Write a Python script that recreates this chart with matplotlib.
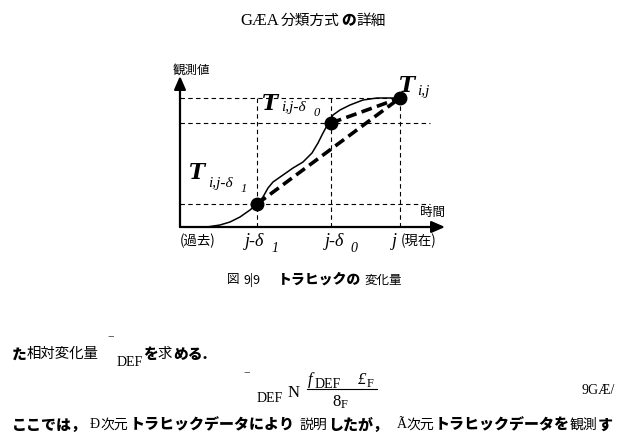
import matplotlib
matplotlib.use("Agg")
import matplotlib.pyplot as plt

curve_t = [13, 27, 40, 50, 60, 70, 77, 83, 88, 93, 103, 113, 123, 132, 138,
           143, 149, 153, 160, 170, 183, 197, 219]
curve_v = [0, 0, 2, 5, 10, 17, 23, 30, 39, 45, 52, 59, 65, 74, 84,
           94, 105, 112, 117, 122, 127, 129, 129]

# the three marked points: T(i,j-d1), T(i,j-d0), T(i,j)
pt_t = [77, 151, 220]
pt_v = [23, 104, 129]

JP = ['Noto Sans CJK JP', 'DejaVu Sans']
SERIF = ['Liberation Serif', 'DejaVu Serif']

fig = plt.figure(figsize=(6.18, 4.4), dpi=100)

# page layer in pixel coordinates
bg = fig.add_axes([0, 0, 1, 1])
bg.set_xlim(0, 618)
bg.set_ylim(440, 0)
bg.axis('off')

# diagram layer
ax = fig.add_axes([180 / 618, (440 - 227) / 440, 265 / 618, 149 / 440])
ax.set_xlim(0, 265)
ax.set_ylim(0, 149)
ax.axis('off')

# guide lines
grid_kw = dict(color='black', lw=0.8, ls=(0, (4, 3)), clip_on=False)
ax.plot([0, pt_t[2]], [pt_v[2], pt_v[2]], **grid_kw)
ax.plot([0, 250], [pt_v[1], pt_v[1]], **grid_kw)
ax.plot([0, 250], [pt_v[0], pt_v[0]], **grid_kw)
for t in pt_t:
    ax.plot([t, t], [0, pt_v[2]], **grid_kw)

# axes with arrows
arrow = dict(arrowstyle='-|>,head_length=0.8,head_width=0.35',
             color='black', lw=1.6, shrinkA=0, shrinkB=0)
ax.annotate('', xy=(0, 151), xytext=(0, 0), annotation_clip=False, arrowprops=arrow)
ax.annotate('', xy=(265, 0), xytext=(0, 0), annotation_clip=False, arrowprops=arrow)

# traffic curve
ax.plot(curve_t, curve_v, color='black', lw=1.1, clip_on=False)

# thick dashed chords
chord_kw = dict(color='black', lw=2.6, ls=(0, (3, 1.5)), clip_on=False)
ax.plot([pt_t[0], pt_t[2]], [pt_v[0], pt_v[2]], **chord_kw)
ax.plot([pt_t[1], pt_t[2]], [pt_v[1], pt_v[2]], **chord_kw)

ax.plot(pt_t, pt_v, 'o', color='black', ms=9, clip_on=False, zorder=5)


def put(x, y, s, style='n', size=10.2, **kw):
    if style == 'n':
        kw.update(family=JP)
    elif style == 'b':
        kw.update(family=JP, weight='heavy')
    elif style == 's':
        kw.update(family=SERIF)
    elif style == 'si':
        kw.update(family=SERIF, style='italic')
    elif style == 'T':
        kw.update(family=['DejaVu Serif'], weight='bold', style='italic')
    bg.text(x, y, s, fontsize=size, va='center', ha='left', **kw)


# title
put(240, 21, 'GÆA', 's', 12)
put(281, 21, '分類方式', 'n', 10.6)
put(341, 21, 'の', 'b', 10.6)
put(356, 21, '詳細', 'n', 10.6)

# diagram labels
put(173, 70, '観測値', 'n', 9)
put(420, 212, '時間', 'n', 9)
put(180, 241, '(過去)', 'n', 9.6)
put(401, 241, '(現在)', 'n', 9.6)
put(245, 242, 'j-δ', 'si', 13)
put(271, 249, '1', 'si', 10)
put(325, 242, 'j-δ', 'si', 13)
put(350, 249, '0', 'si', 10)
put(392, 242, 'j', 'si', 13)

put(399, 86, 'T', 'T', 15.5)
put(417, 91, 'i,j', 'si', 11)
put(262, 104, 'T', 'T', 15.5)
put(281, 108, 'i,j-δ', 'si', 11)
put(314, 113, '0', 'si', 9)
put(189, 173, 'T', 'T', 15.5)
put(208, 183, 'i,j-δ', 'si', 11)
put(241, 189, '1', 'si', 9)

# caption
put(227, 280, '図', 'n', 9)
put(243, 280, '9|9', 'n', 9)
put(278, 280, 'トラヒックの', 'b', 10)
put(364, 280, '変化量', 'n', 9)

# body text, first line
put(12, 354, 'た', 'b', 10.6)
put(27, 354, '相対変化量', 'n', 10.4)
put(108, 345, '‾', 's', 10)
put(117, 362, 'DEF', 's', 10)
put(143, 354, 'を', 'b', 10.6)
put(158, 354, '求', 'n', 10.4)
put(173, 354, 'める.', 'b', 10.6)

# equation
put(244, 381, '‾', 's', 10)
put(257, 398, 'DEF', 's', 10)
put(288, 393, 'N', 's', 12)
put(308, 380, 'f', 'si', 12)
put(315, 384, 'DEF', 's', 10)
put(358, 380, '£', 'si', 12)
put(367, 384, 'F', 's', 9)
bg.plot([307, 377], [389, 389], color='black', lw=0.8)
put(332, 402, '8', 's', 12)
put(341, 405, 'F', 's', 9)
put(582, 390, '9GÆ/', 's', 10)

# body text, last line
last_line = [(12, 'ここでは，', 'b'), (90, 'Ð', 's'), (100, '次元', 'n'),
             (130, 'トラヒックデータにより', 'b'), (300, '説明', 'n'),
             (328, 'したが，', 'b'), (397, 'Ã', 's'), (406, '次元', 'n'),
             (435, 'トラヒックデータを', 'b'), (570, '観測', 'n'), (598, 'す', 'b')]
for x, s, st in last_line:
    put(x, 425, s, st, 10.8 if st == 'b' else 10)

fig.savefig('out.png', dpi=100, facecolor='white')
